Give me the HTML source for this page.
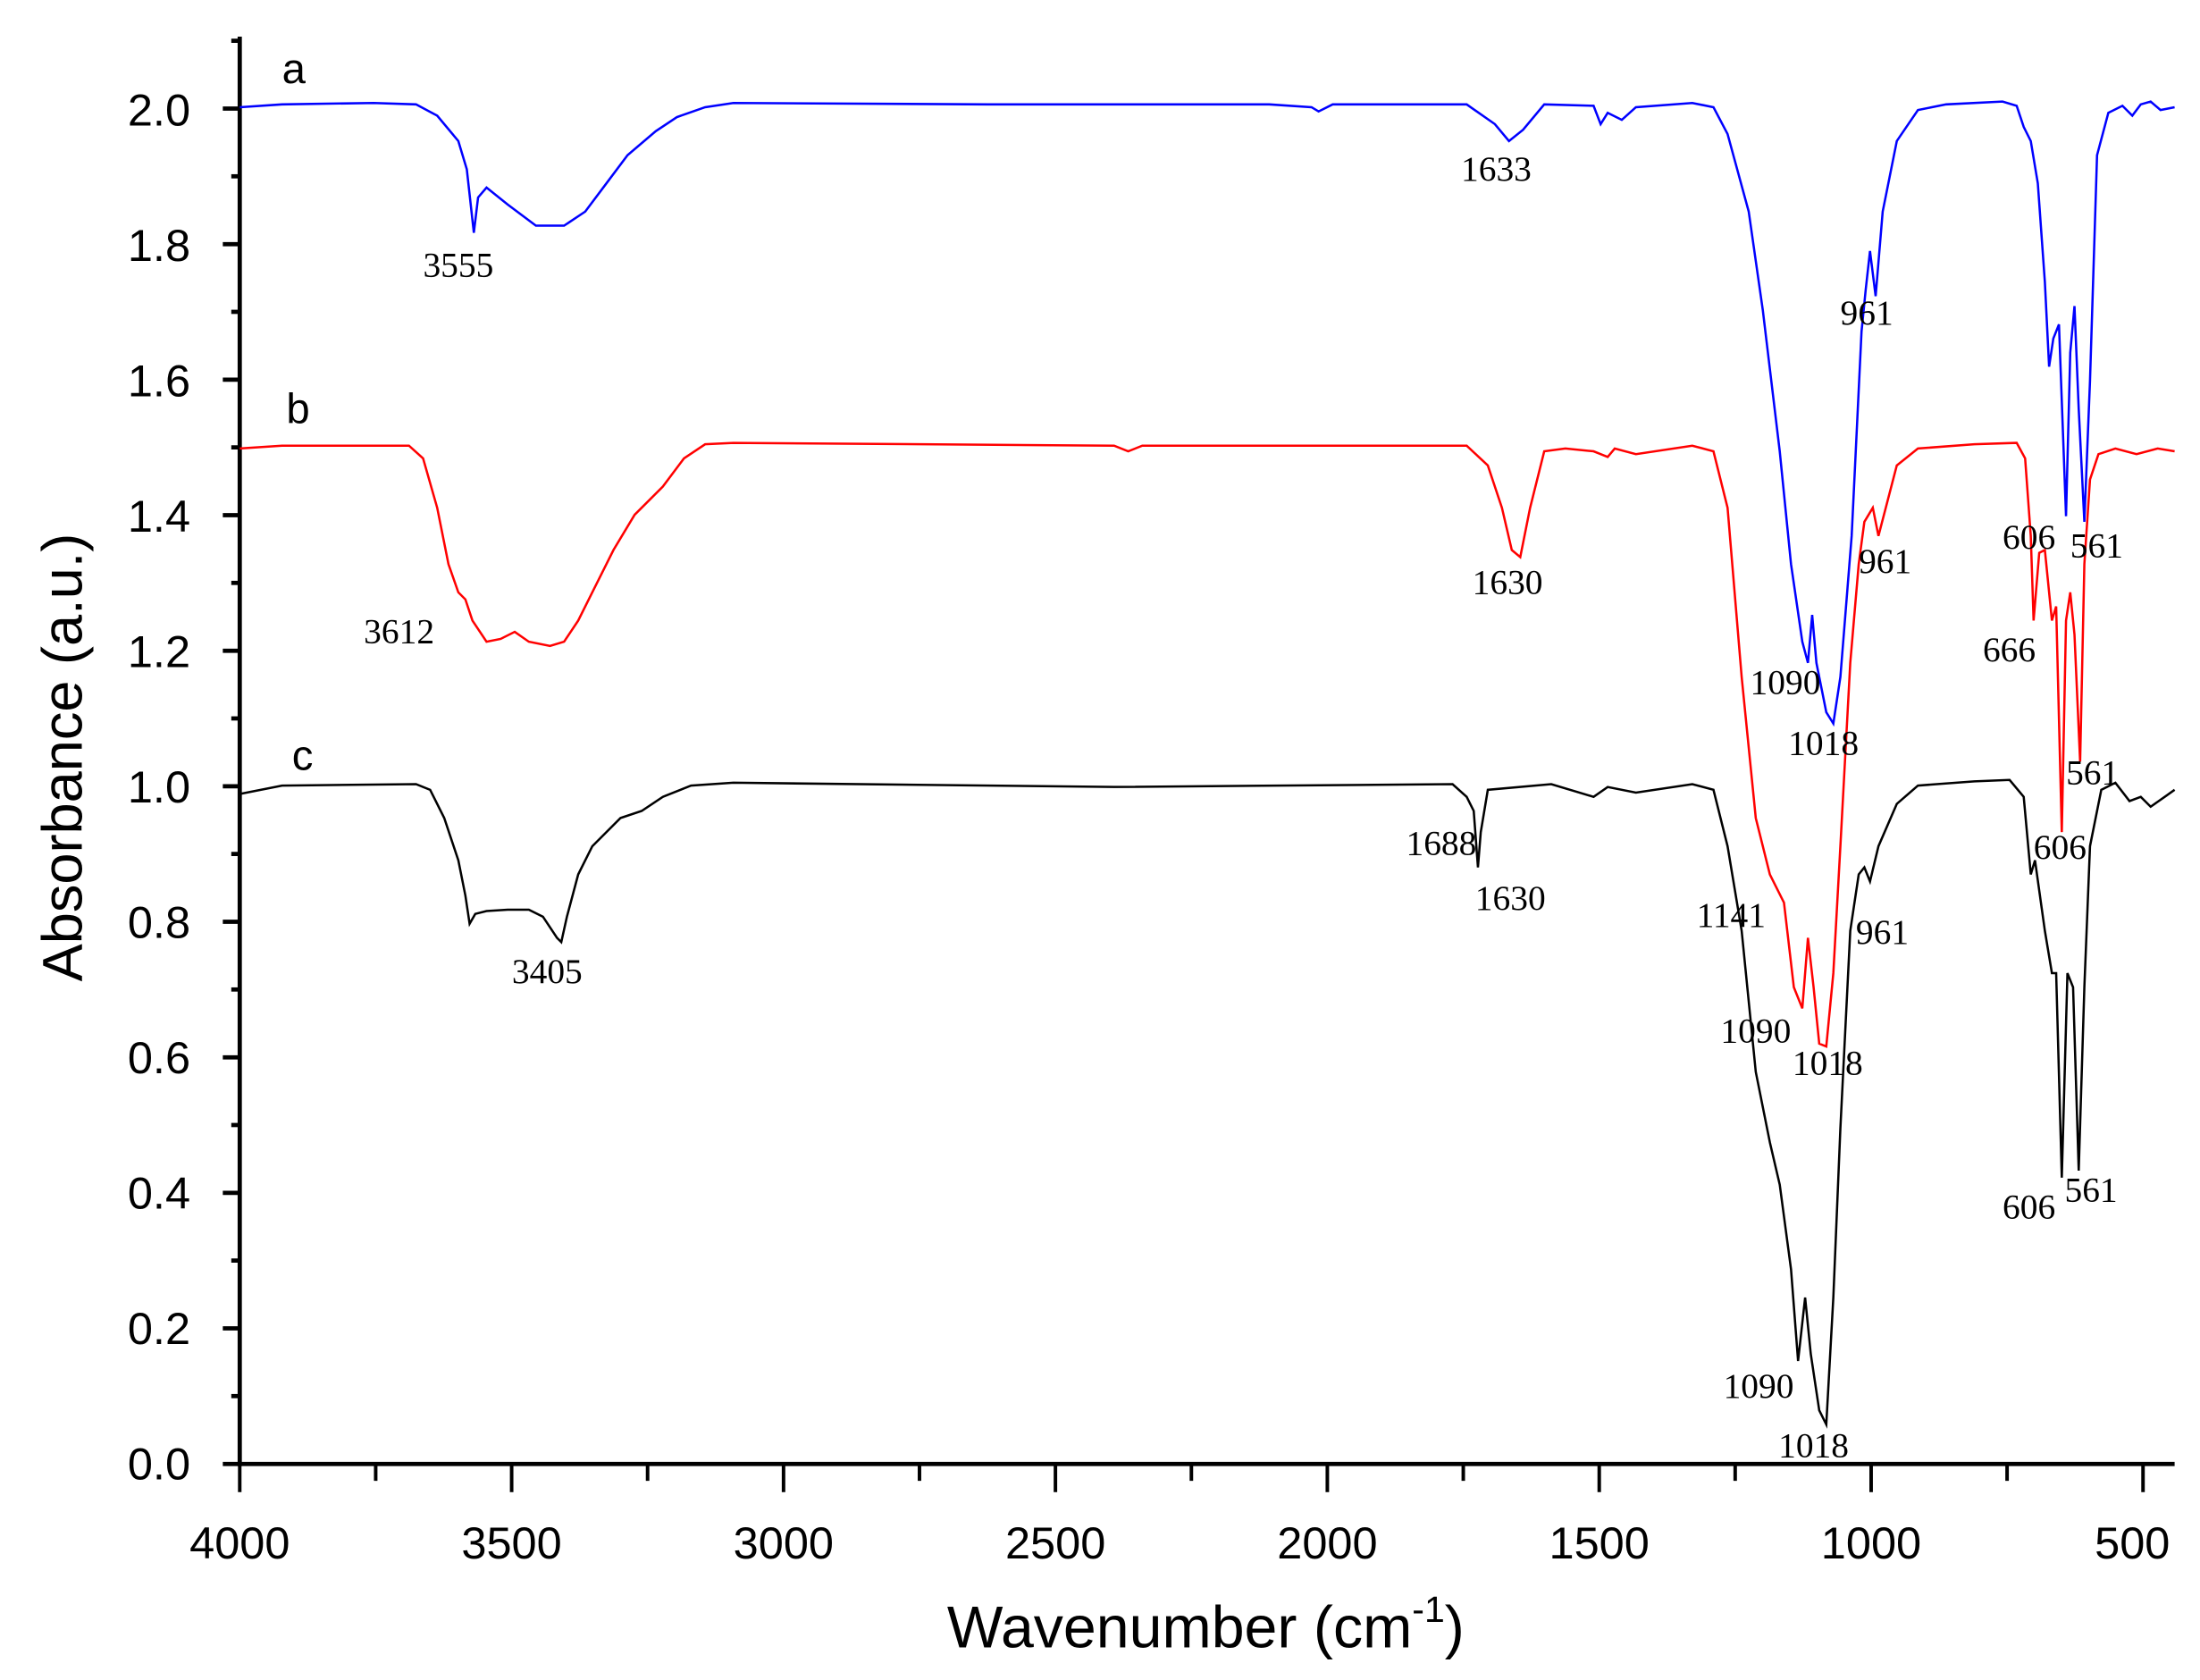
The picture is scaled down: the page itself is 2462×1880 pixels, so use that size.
<!DOCTYPE html>
<html><head><meta charset="utf-8"><style>
html,body{margin:0;padding:0;background:#fff;}
svg{display:block;}
.tk{font-family:"Liberation Sans",sans-serif;font-size:32px;fill:#000;}
.pk{font-family:"Liberation Serif",serif;font-size:25px;fill:#000;}
</style></head><body>
<svg width="2462" height="1880" viewBox="0 0 1560 1191.2" xmlns="http://www.w3.org/2000/svg">
<rect width="1560" height="1191.2" fill="#fff"/>
<line x1="170" y1="26" x2="170" y2="1039.5" stroke="#000" stroke-width="3"/>
<line x1="168.5" y1="1038" x2="1542" y2="1038" stroke="#000" stroke-width="3"/>
<g stroke="#000" stroke-width="3">
<line x1="158" y1="1038" x2="170" y2="1038"/><line x1="158" y1="941.9" x2="170" y2="941.9"/>
<line x1="158" y1="845.8" x2="170" y2="845.8"/><line x1="158" y1="749.7" x2="170" y2="749.7"/>
<line x1="158" y1="653.6" x2="170" y2="653.6"/><line x1="158" y1="557.5" x2="170" y2="557.5"/>
<line x1="158" y1="461.4" x2="170" y2="461.4"/><line x1="158" y1="365.3" x2="170" y2="365.3"/>
<line x1="158" y1="269.2" x2="170" y2="269.2"/><line x1="158" y1="173.1" x2="170" y2="173.1"/>
<line x1="158" y1="77" x2="170" y2="77"/>
<line x1="164" y1="989.9" x2="170" y2="989.9"/><line x1="164" y1="893.8" x2="170" y2="893.8"/>
<line x1="164" y1="797.7" x2="170" y2="797.7"/><line x1="164" y1="701.6" x2="170" y2="701.6"/>
<line x1="164" y1="605.5" x2="170" y2="605.5"/><line x1="164" y1="509.4" x2="170" y2="509.4"/>
<line x1="164" y1="413.3" x2="170" y2="413.3"/><line x1="164" y1="317.2" x2="170" y2="317.2"/>
<line x1="164" y1="221.1" x2="170" y2="221.1"/><line x1="164" y1="125" x2="170" y2="125"/>
<line x1="164" y1="28.9" x2="170" y2="28.9"/>
</g>
<g stroke="#000" stroke-width="2.5">
<line x1="170" y1="1038" x2="170" y2="1058"/><line x1="266.4" y1="1038" x2="266.4" y2="1050"/>
<line x1="362.8" y1="1038" x2="362.8" y2="1058"/><line x1="459.2" y1="1038" x2="459.2" y2="1050"/>
<line x1="555.6" y1="1038" x2="555.6" y2="1058"/><line x1="652" y1="1038" x2="652" y2="1050"/>
<line x1="748.4" y1="1038" x2="748.4" y2="1058"/><line x1="844.8" y1="1038" x2="844.8" y2="1050"/>
<line x1="941.2" y1="1038" x2="941.2" y2="1058"/><line x1="1037.6" y1="1038" x2="1037.6" y2="1050"/>
<line x1="1134" y1="1038" x2="1134" y2="1058"/><line x1="1230.4" y1="1038" x2="1230.4" y2="1050"/>
<line x1="1326.8" y1="1038" x2="1326.8" y2="1058"/><line x1="1423.2" y1="1038" x2="1423.2" y2="1050"/>
<line x1="1519.6" y1="1038" x2="1519.6" y2="1058"/>
</g>
<g class="tk" text-anchor="middle">
<text x="170" y="1105">4000</text><text x="362.8" y="1105">3500</text><text x="555.6" y="1105">3000</text>
<text x="748.4" y="1105">2500</text><text x="941.2" y="1105">2000</text><text x="1134" y="1105">1500</text>
<text x="1326.8" y="1105">1000</text><text x="1512" y="1105">500</text>
</g>
<g class="tk" text-anchor="end">
<text x="135" y="1049">0.0</text><text x="135" y="953">0.2</text><text x="135" y="857">0.4</text>
<text x="135" y="761">0.6</text><text x="135" y="665">0.8</text><text x="135" y="569">1.0</text>
<text x="135" y="473">1.2</text><text x="135" y="377">1.4</text><text x="135" y="281">1.6</text>
<text x="135" y="185">1.8</text><text x="135" y="89">2.0</text>
</g>
<text x="855" y="1168" text-anchor="middle" style="font-family:'Liberation Sans',sans-serif;font-size:42px">Wavenumber (cm<tspan dy="-18" font-size="26">-1</tspan><tspan dy="18">)</tspan></text>
<text transform="translate(58,537) rotate(-90)" text-anchor="middle" style="font-family:'Liberation Sans',sans-serif;font-size:40px">Absorbance (a.u.)</text>
<g style="font-family:'Liberation Sans',sans-serif;font-size:30px">
<text x="200" y="59">a</text><text x="203" y="300">b</text><text x="207" y="546">c</text></g>
<polyline fill="none" stroke="#0000ff" stroke-width="1.6" points="170,76 200,74 265,73 295,74 310,82 325,100 331,120 333,138 336,165 339,140 345,133 360,145 380,160 400,160 415,150 430,130 445,110 465,93 480,83 500,76 520,73 700,74 900,74 930,76 935,79 945,74 1040,74 1060,88 1070,100 1080,92 1095,74 1130,75 1135,88 1140,80 1150,85 1160,76 1200,73 1215,76 1225,95 1240,150 1250,220 1262,320 1270,400 1278,455 1282,470 1285,436 1288,470 1295,505 1300,513 1305,480 1313,380 1320,235 1323,205 1326,178 1330,210 1335,150 1345,100 1360,78 1380,74 1420,72 1430,75 1435,90 1440,100 1445,130 1450,200 1453,260 1456,240 1460,230 1465,366 1468,250 1471,217 1474,290 1478,370 1482,270 1487,110 1495,80 1505,75 1512,82 1518,74 1525,72 1532,78 1542,76"/>
<polyline fill="none" stroke="#ff0000" stroke-width="1.6" points="170,318 200,316 290,316 300,325 310,360 318,400 325,420 330,425 335,440 345,455 355,453 365,448 375,455 390,458 400,455 410,440 420,420 435,390 450,365 470,345 485,325 500,315 520,314 790,316 800,320 810,316 1040,316 1055,330 1065,360 1072,390 1078,395 1085,360 1095,320 1110,318 1130,320 1140,324 1145,318 1160,322 1200,316 1215,320 1225,360 1235,480 1245,580 1255,620 1265,640 1272,700 1278,715 1282,665 1286,700 1290,740 1295,742 1300,690 1305,600 1312,470 1318,400 1322,370 1328,360 1332,380 1345,330 1360,318 1400,315 1430,314 1436,325 1440,380 1442,440 1446,392 1450,390 1455,440 1458,430 1462,590 1465,440 1468,420 1471,450 1475,540 1478,400 1482,340 1488,322 1500,318 1515,322 1530,318 1542,320"/>
<polyline fill="none" stroke="#000" stroke-width="1.6" points="170,563 200,557 295,556 305,560 315,580 325,610 330,635 333,655 337,648 345,646 360,645 375,645 385,650 395,665 398,668 402,650 410,620 420,600 440,580 455,575 470,565 490,557 520,555 790,558 1030,556 1040,565 1045,575 1048,615 1050,590 1055,560 1100,556 1130,565 1140,558 1160,562 1200,556 1215,560 1225,600 1235,660 1245,760 1255,810 1262,840 1270,900 1275,965 1280,920 1284,960 1290,1000 1295,1010 1300,920 1305,800 1312,660 1318,620 1322,615 1326,625 1332,600 1345,570 1360,557 1400,554 1425,553 1435,565 1440,620 1443,610 1450,660 1455,690 1458,690 1462,835 1466,690 1470,700 1474,830 1478,700 1482,600 1490,560 1500,555 1510,568 1518,565 1525,572 1535,565 1542,560"/>
<g class="pk">
<text x="300" y="196">3555</text><text x="1036" y="128">1633</text><text x="1305" y="230">961</text>
<text x="258" y="456">3612</text><text x="1044" y="421">1630</text><text x="1318" y="406">961</text>
<text x="1241" y="492">1090</text><text x="1268" y="535">1018</text>
<text x="1420" y="389">606</text><text x="1468" y="395">561</text><text x="1406" y="469">666</text>
<text x="1465" y="556">561</text><text x="1442" y="609">606</text>
<text x="997" y="606">1688</text><text x="1046" y="645">1630</text><text x="363" y="697">3405</text>
<text x="1203" y="657">1141</text><text x="1316" y="669">961</text>
<text x="1220" y="739">1090</text><text x="1271" y="762">1018</text>
<text x="1420" y="864">606</text><text x="1464" y="852">561</text>
<text x="1222" y="991">1090</text><text x="1261" y="1033">1018</text>
</g>
</svg>
</body></html>
